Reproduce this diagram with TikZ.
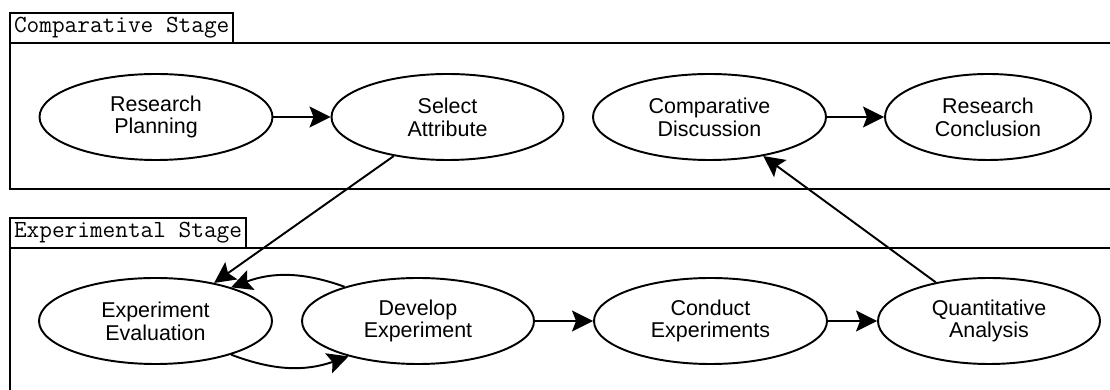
\documentclass[tikz,border=0pt]{standalone}
\usepackage{fontspec}
\setmainfont{Liberation Sans}
\usetikzlibrary{shapes,arrows.meta,positioning}

\begin{document}
\begin{tikzpicture}[
    stage/.style={draw, ellipse, line width=1.1pt, minimum height=1.72cm, inner sep=0pt, align=center, font=\fontsize{12.2}{13}\selectfont},
    tab/.style={draw, line width=1.1pt, anchor=south west, outer sep=0pt, minimum height=0.6cm, inner xsep=0.08cm, inner ysep=0pt, font=\ttfamily\fontsize{14}{14}\selectfont},
    arr/.style={line width=1.1pt, -{Stealth[length=0.42cm,width=0.42cm,inset=0.08cm]}}
]
    \useasboundingbox (0,0) rectangle (22.2,7.8);

    % Stage frames (open to the right)
    \node[tab] (comptab) at (0.2,6.94) {Comparative Stage};
    \draw[line width=1.1pt] (22.2,6.94) -- (comptab.south west) |- (22.2,4.02);

    \node[tab] (exptab) at (0.2,2.84) {Experimental Stage};
    \draw[line width=1.1pt] (22.2,2.84) -- (exptab.south west) -- (0.2,0);

    % Activities
    \foreach \name/\x/\y/\w/\txt in {plan/3.12/5.46/4.66/{Research\\Planning},
                                     attr/8.95/5.46/4.64/{Select\\Attribute},
                                     disc/14.19/5.46/4.66/{Comparative\\Discussion},
                                     concl/19.76/5.46/4.12/{Research\\Conclusion},
                                     eval/3.11/1.38/4.66/{Experiment\\Evaluation},
                                     dev/8.36/1.38/4.64/{Develop\\Experiment},
                                     cond/14.21/1.38/4.66/{Conduct\\Experiments},
                                     quant/19.78/1.38/4.44/{Quantitative\\Analysis}}
        \node[stage, minimum width=\w cm] (\name) at (\x,\y) {\txt};

    % Flow
    \draw[arr] (plan) -- (attr);
    \draw[arr] (disc) -- (concl);
    \draw[arr] (dev) -- (cond);
    \draw[arr] (cond) -- (quant);
    \draw[arr] (attr.216) -- (eval.33);
    \draw[arr] (quant.144) -- (disc.324);
    \draw[arr] (dev.155) to[bend right=20] (eval.24);
    \draw[arr] (eval.-24) to[bend right=20] (dev.207);
\end{tikzpicture}
\end{document}
